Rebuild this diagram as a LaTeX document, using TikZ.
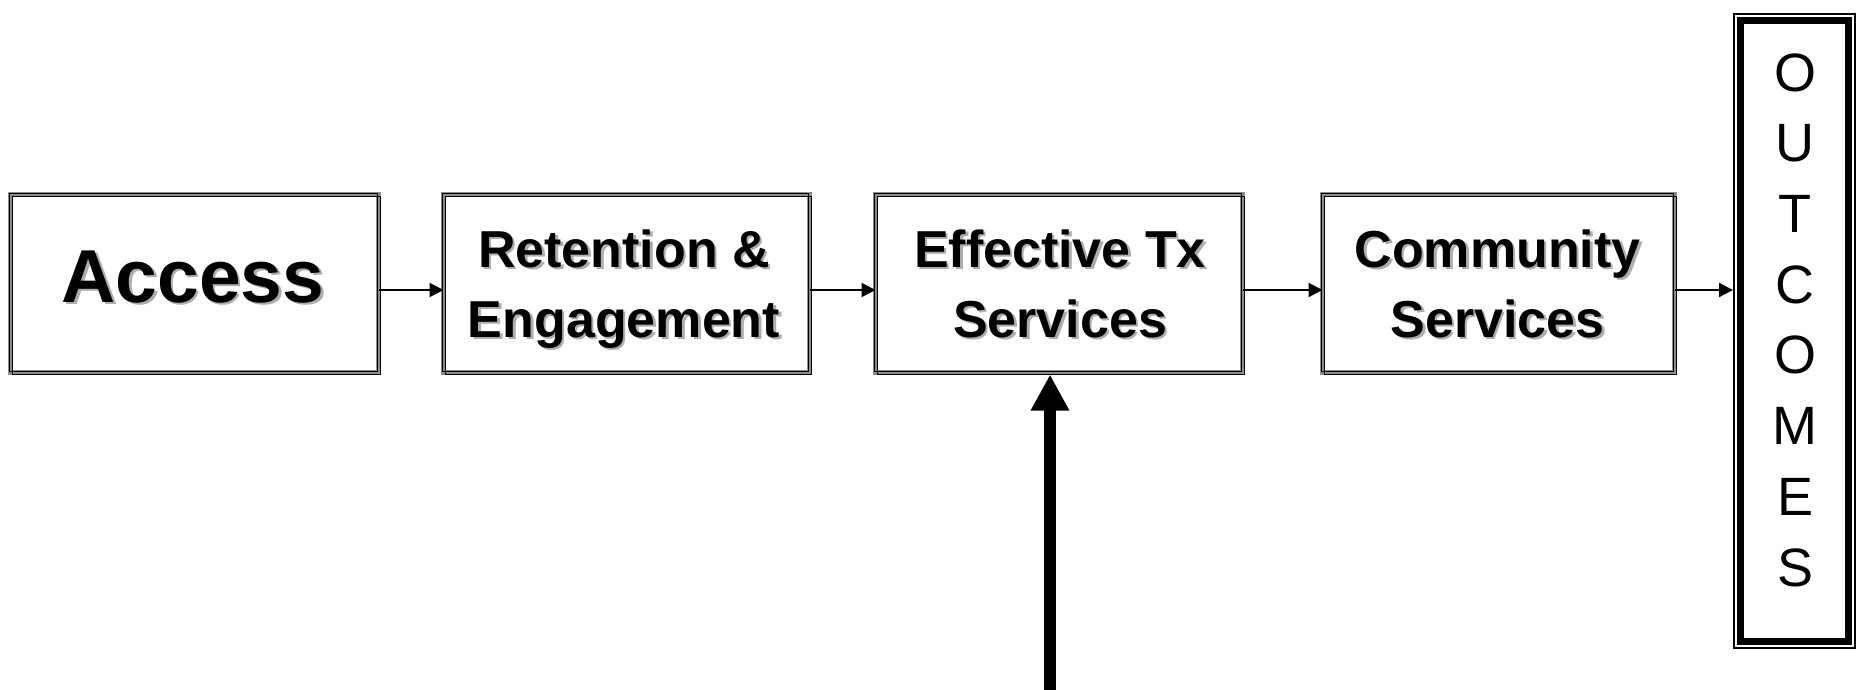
\documentclass[tikz,border=0pt]{standalone}
\usepackage{fontspec}
\setmainfont{Liberation Sans}
\usetikzlibrary{arrows.meta,calc}
\definecolor{shadowgray}{gray}{0.68}
\definecolor{framegray}{gray}{0.55}
\newcommand\shtxt[1]{\leavevmode\rlap{\kern2.5pt\raisebox{-2.5pt}{\textcolor{shadowgray}{#1}}}#1}
\tikzset{
  boxnode/.style={rectangle, draw=none, outer sep=0pt, inner sep=0pt, minimum height=178pt},
  boxtext/.style={anchor=base, align=center, inner sep=0pt, font=\bfseries\fontsize{52}{70}\selectfont},
  thinarrow/.style={line width=2pt, -{Triangle[length=14pt 0 0, width=14pt 0 0]}},
  bigarrow/.style={line width=12pt, -{Triangle[length=36pt 0 0, width=36pt 0 0]}},
}
\begin{document}
\begin{tikzpicture}[x=1pt,y=-1pt]
\useasboundingbox (0,0) rectangle (1857,690);
% boxes
\node[boxnode, minimum width=368pt] (acc) at (194.5,283.5) {};
\node[boxnode, minimum width=366pt] (ret) at (626.5,283.5) {};
\node[boxnode, minimum width=367pt] (eff) at (1059,283.5) {};
\node[boxnode, minimum width=352pt] (com) at (1498.5,283.5) {};
\foreach \n in {acc,ret,eff,com}{
  \draw[framegray, line width=5pt] (\n.north west) rectangle (\n.south east);
  \draw[black, line width=1pt] ($(\n.north west)+(-0.6,-0.6)$) rectangle ($(\n.south east)+(-0.6,-0.6)$);
  \draw[black, line width=1pt] ($(\n.north west)+(2,2)$) rectangle ($(\n.south east)+(2,2)$);
}
% texts
\node[anchor=base, inner sep=0pt, font=\bfseries\fontsize{75}{80}\selectfont] (accT) at (193,302) {\shtxt{Access}};
\node[boxtext] (retT) at (624,337) {\shtxt{Retention \&}\\\shtxt{Engagement}};
\node[boxtext] (effT) at (1060,337) {\shtxt{Effective Tx}\\\shtxt{Services}};
\node[boxtext] (comT) at (1497.5,337) {\shtxt{Community}\\\shtxt{Services}};
% outcomes
\node[rectangle, draw=black, line width=2pt, outer sep=0pt, inner sep=0pt, minimum width=121pt, minimum height=634pt] (out) at (1794.5,331) {};
\draw[black, line width=7pt] ($(out.north west)+(6.5,6.5)$) rectangle ($(out.south east)+(-6.5,-6.5)$);
\node[anchor=base, align=center, inner sep=0pt, font=\fontsize{54}{70.7}\selectfont] (outT) at (1795,586) {O\\U\\T\\C\\O\\M\\E\\S};
% arrows
\coordinate (ay) at (0,290);
\draw[thinarrow] (acc.east |- ay) -- (ret.west |- ay);
\draw[thinarrow] (ret.east |- ay) -- (eff.west |- ay);
\draw[thinarrow] (eff.east |- ay) -- (com.west |- ay);
\draw[thinarrow] (com.east |- ay) -- ($(out.west |- ay)+(-1,0)$);
\coordinate (bot) at (1050,690);
\draw[bigarrow] (bot) -- ($(bot |- eff.south)+(0,2)$);
\end{tikzpicture}
\end{document}
